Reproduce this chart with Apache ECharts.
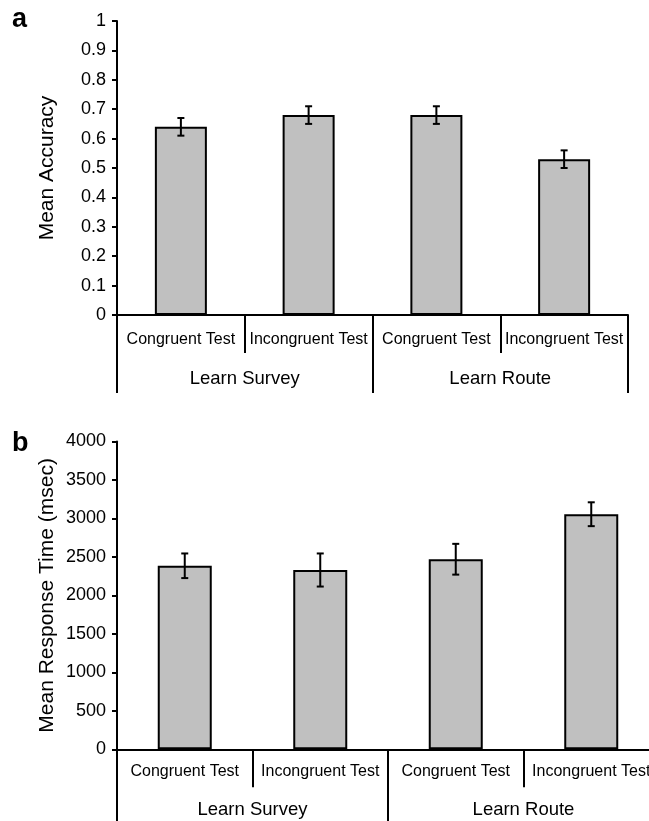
<!DOCTYPE html>
<html>
<head>
<meta charset="utf-8">
<script src="https://cdn.jsdelivr.net/npm/echarts@6/dist/echarts.min.js"></script>
<style>
html,body{margin:0;padding:0;background:#fff;}
#chart{width:649px;height:821px;}
</style>
</head>
<body>
<div id="chart"></div>
<script>
// ---- data ----
const categories = ['Congruent Test', 'Incongruent Test', 'Congruent Test', 'Incongruent Test'];
const groups = ['Learn Survey', 'Learn Route'];
const accuracyMeans = [0.64, 0.68, 0.68, 0.53];
const accuracyErrors = [0.03, 0.03, 0.03, 0.03];
const rtMeans = [2385, 2330, 2470, 3055];
const rtErrors = [160, 215, 200, 155];
const accuracyAxis = { min: 0, max: 1, interval: 0.1 };
const rtAxis = { min: 0, max: 4000, interval: 500 };
const panelLetters = ['a', 'b'];
const yTitles = ['Mean Accuracy', 'Mean Response Time (msec)'];

const FONT = "'Liberation Sans', Arial, Helvetica, sans-serif";
const chart = echarts.init(document.getElementById('chart'), null, { renderer: 'canvas' });

function errorSeries(means, errs, xi, yi) {
  return {
    type: 'custom',
    xAxisIndex: xi,
    yAxisIndex: yi,
    z: 5,
    clip: false,
    data: means.map((m, i) => [i, m, errs[i]]),
    renderItem: function (params, api) {
      const i = api.value(0), m = api.value(1), e = api.value(2);
      const top = api.coord([i, m + e]);
      const bot = api.coord([i, m - e]);
      const hw = 3.5;
      const st = { stroke: '#000', lineWidth: 2 };
      return {
        type: 'group',
        children: [
          { type: 'line', shape: { x1: top[0], y1: top[1], x2: bot[0], y2: bot[1] }, style: st },
          { type: 'line', shape: { x1: top[0] - hw, y1: top[1], x2: top[0] + hw, y2: top[1] }, style: st },
          { type: 'line', shape: { x1: bot[0] - hw, y1: bot[1], x2: bot[0] + hw, y2: bot[1] }, style: st }
        ]
      };
    }
  };
}

function catAxis(gi, tickLen, labelMargin) {
  return {
    type: 'category',
    gridIndex: gi,
    data: categories,
    position: 'bottom',
    boundaryGap: true,
    axisLine: { show: true, lineStyle: { color: '#000', width: 2 } },
    axisTick: { show: true, length: tickLen, lineStyle: { color: '#000', width: 2 } },
    axisLabel: { interval: 0, margin: labelMargin, color: '#000', fontSize: 16, fontFamily: FONT, hideOverlap: false },
    splitLine: { show: false }
  };
}
function groupAxis(gi, tickLen, labelMargin) {
  return {
    type: 'category',
    gridIndex: gi,
    data: groups,
    position: 'bottom',
    boundaryGap: true,
    axisLine: { show: false },
    axisTick: { show: true, length: tickLen, lineStyle: { color: '#000', width: 2 } },
    axisLabel: { interval: 0, margin: labelMargin, color: '#000', fontSize: 18.5, fontFamily: FONT },
    splitLine: { show: false }
  };
}
function valAxis(gi, cfg, name) {
  return {
    type: 'value',
    gridIndex: gi,
    min: cfg.min, max: cfg.max, interval: cfg.interval,
    name: name,
    nameLocation: 'middle',
    nameRotate: 90,
    nameGap: 59,
    nameMoveOverlap: false,
    nameTextStyle: { color: '#000', fontSize: 21, fontFamily: FONT },
    axisLine: { show: true, lineStyle: { color: '#000', width: 2 } },
    axisTick: { show: true, length: 5, lineStyle: { color: '#000', width: 2 } },
    axisLabel: { margin: 11, color: '#000', fontSize: 18, fontFamily: FONT, formatter: function (v) { return String(v); } },
    splitLine: { show: false }
  };
}

const barStyle = { color: '#c0c0c0', borderColor: '#000', borderWidth: 2 };

const option = {
  backgroundColor: '#fff',
  animation: false,
  title: [
    { text: panelLetters[0], left: 12, top: 6, padding: 0, textStyle: { fontSize: 27, fontWeight: 'bold', color: '#000', fontFamily: FONT } },
    { text: panelLetters[1], left: 12, top: 430, padding: 0, textStyle: { fontSize: 27, fontWeight: 'bold', color: '#000', fontFamily: FONT } }
  ],
  grid: [
    { left: 117, top: 21, width: 511, height: 294, containLabel: false, outerBoundsMode: 'none' },
    { left: 117, top: 441.5, width: 542, height: 307.8, containLabel: false, outerBoundsMode: 'none' }
  ],
  xAxis: [
    catAxis(0, 38, 17),
    groupAxis(0, 78, 54),
    catAxis(1, 38, 14),
    groupAxis(1, 80, 51)
  ],
  yAxis: [
    valAxis(0, accuracyAxis, yTitles[0]),
    valAxis(1, rtAxis, yTitles[1])
  ],
  series: [
    { type: 'bar', xAxisIndex: 0, yAxisIndex: 0, data: accuracyMeans, barWidth: 52, itemStyle: barStyle },
    errorSeries(accuracyMeans, accuracyErrors, 0, 0),
    { type: 'bar', xAxisIndex: 2, yAxisIndex: 1, data: rtMeans, barWidth: 54, itemStyle: barStyle },
    errorSeries(rtMeans, rtErrors, 2, 1)
  ]
};
chart.setOption(option);
</script>
</body>
</html>
